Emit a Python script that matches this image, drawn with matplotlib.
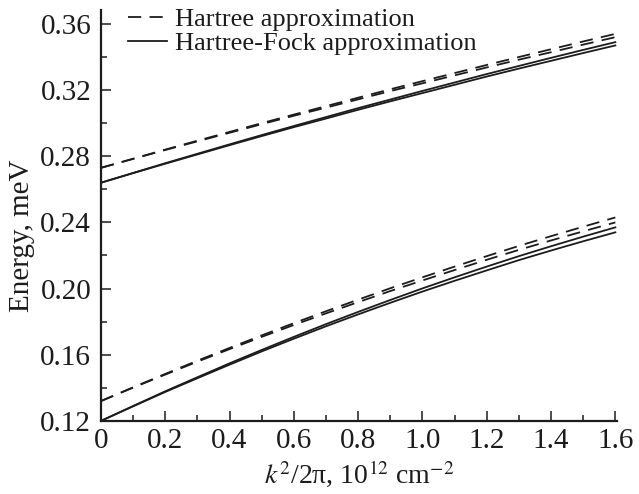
import matplotlib
matplotlib.use("Agg")
import matplotlib.pyplot as plt
from matplotlib.ticker import MultipleLocator, FixedLocator

plt.rcParams['font.family'] = ['Liberation Serif', 'DejaVu Serif']
plt.rcParams['mathtext.fontset'] = 'stix'
plt.rcParams['lines.scale_dashes'] = False

k2 = [0.0, 0.1, 0.2, 0.3, 0.4, 0.5, 0.6, 0.7, 0.8,
      0.9, 1.0, 1.1, 1.2, 1.3, 1.4, 1.5, 1.6]

# Hartree approximation (dashed)
hartree_upper_a = [0.2730, 0.2785, 0.2840, 0.2894, 0.2947, 0.3000, 0.3052, 0.3103, 0.3154,
                   0.3205, 0.3254, 0.3303, 0.3352, 0.3400, 0.3447, 0.3494, 0.3540]
hartree_upper_b = [0.2730, 0.2784, 0.2838, 0.2890, 0.2942, 0.2994, 0.3045, 0.3094, 0.3144,
                   0.3194, 0.3241, 0.3289, 0.3337, 0.3384, 0.3429, 0.3475, 0.3520]
hartree_lower_a = [0.1320, 0.1403, 0.1484, 0.1564, 0.1641, 0.1717, 0.1791, 0.1863, 0.1933,
                   0.2002, 0.2068, 0.2133, 0.2196, 0.2258, 0.2317, 0.2374, 0.2430]
hartree_lower_b = [0.1320, 0.1401, 0.1480, 0.1558, 0.1634, 0.1708, 0.1780, 0.1850, 0.1918,
                   0.1985, 0.2049, 0.2112, 0.2174, 0.2234, 0.2291, 0.2346, 0.2400]

# Hartree-Fock approximation (solid)
hf_upper_a = [0.2640, 0.2699, 0.2758, 0.2815, 0.2872, 0.2928, 0.2983, 0.3037, 0.3091,
              0.3143, 0.3195, 0.3246, 0.3297, 0.3346, 0.3395, 0.3443, 0.3490]
hf_upper_b = [0.2640, 0.2698, 0.2755, 0.2811, 0.2867, 0.2922, 0.2976, 0.3028, 0.3081,
              0.3132, 0.3182, 0.3232, 0.3282, 0.3330, 0.3377, 0.3424, 0.3470]
hf_lower_a = [0.1200, 0.1290, 0.1379, 0.1464, 0.1548, 0.1629, 0.1708, 0.1785, 0.1859,
              0.1931, 0.2001, 0.2068, 0.2133, 0.2196, 0.2256, 0.2314, 0.2370]
hf_lower_b = [0.1200, 0.1288, 0.1375, 0.1458, 0.1540, 0.1620, 0.1697, 0.1772, 0.1844,
              0.1914, 0.1982, 0.2047, 0.2110, 0.2172, 0.2230, 0.2286, 0.2340]

xticks = [0, 0.2, 0.4, 0.6, 0.8, 1.0, 1.2, 1.4, 1.6]
xticklabels = ['0', '0.2', '0.4', '0.6', '0.8', '1.0', '1.2', '1.4', '1.6']
yticks = [0.12, 0.16, 0.20, 0.24, 0.28, 0.32, 0.36]
yticklabels = ['0.12', '0.16', '0.20', '0.24', '0.28', '0.32', '0.36']

fig = plt.figure(figsize=(6.39, 4.94), dpi=100)
ax = fig.add_axes([0.158, 0.148, 0.8075, 0.832])

col = '#1c1c1c'
lw = 1.3
dash = (9.5, 6.0)

l1, = ax.plot(k2, hartree_upper_a, color=col, lw=lw, dashes=dash, label='Hartree approximation')
ax.plot(k2, hartree_upper_b, color=col, lw=lw, dashes=dash)
ax.plot(k2, hartree_lower_a, color=col, lw=lw, dashes=dash)
ax.plot(k2, hartree_lower_b, color=col, lw=lw, dashes=dash)
l2, = ax.plot(k2, hf_upper_a, color=col, lw=lw, label='Hartree-Fock approximation')
ax.plot(k2, hf_upper_b, color=col, lw=lw)
ax.plot(k2, hf_lower_a, color=col, lw=lw)
ax.plot(k2, hf_lower_b, color=col, lw=lw)

ax.set_xlim(0, 1.605)
ax.set_ylim(0.12, 0.3685)

ax.spines['top'].set_visible(False)
ax.spines['right'].set_visible(False)
for s in ['left', 'bottom']:
    ax.spines[s].set_linewidth(1.6)
    ax.spines[s].set_color(col)

ax.xaxis.set_major_locator(FixedLocator(xticks))
ax.set_xticklabels(xticklabels)
ax.xaxis.set_minor_locator(MultipleLocator(0.1))
ax.yaxis.set_major_locator(FixedLocator(yticks))
ax.set_yticklabels(yticklabels)
ax.yaxis.set_minor_locator(MultipleLocator(0.02))

ax.tick_params(which='major', direction='in', length=7, width=1.1, labelsize=21,
               color=col, labelcolor=col)
ax.tick_params(axis='y', which='major', pad=7)
ax.tick_params(axis='x', which='major', pad=5)
ax.tick_params(which='minor', direction='in', length=4, width=1.1, color=col)

ax.set_xlabel('$k^2$/2π, 10$^{12}$ cm$^{-2}$', fontsize=20, color=col, labelpad=3)
ax.set_ylabel('Energy, meV', fontsize=21, color=col)
ax.yaxis.set_label_coords(-0.128, 0.45)

leg = ax.legend(handles=[l1, l2], loc='upper left', bbox_to_anchor=(0.052, 1.005),
                frameon=False, fontsize=19, handlelength=1.48, handletextpad=0.3,
                labelspacing=0.0, borderpad=0.0, borderaxespad=0.0)
for t in leg.get_texts():
    t.set_color(col)

fig.savefig('out.png', dpi=100)
